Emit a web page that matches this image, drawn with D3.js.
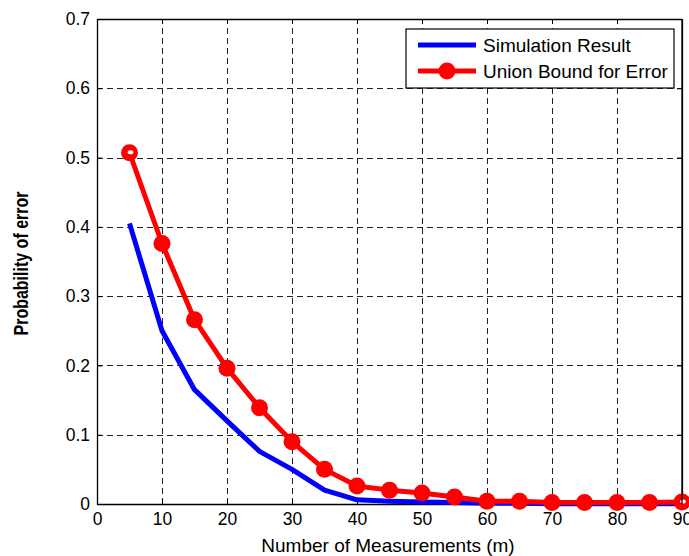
<!DOCTYPE html>
<html>
<head>
<meta charset="utf-8">
<script src="https://cdn.jsdelivr.net/npm/d3@7"></script>
<style>
  html, body { margin: 0; padding: 0; background: #fff; }
  svg { display: block; font-family: "Liberation Sans", Arial, Helvetica, sans-serif; }
</style>
</head>
<body>
<svg id="chart" width="689" height="556"></svg>
<script>
// Number of measurements (m)
const measurements = [5, 10, 15, 20, 25, 30, 35, 40, 45, 50, 55, 60, 65, 70, 75, 80, 85, 90];
// Simulated probability of error
const simulationResult = [0.405, 0.25, 0.165, 0.12, 0.076, 0.05, 0.02, 0.006, 0.004, 0.003, 0.002, 0.001, 0.001, 0.0005, 0.0005, 0.0005, 0.0005, 0.0005];
// Union bound on the probability of error
const unionBound = [0.507, 0.376, 0.266, 0.196, 0.139, 0.09, 0.05, 0.026, 0.02, 0.016, 0.01, 0.004, 0.004, 0.002, 0.002, 0.002, 0.002, 0.003];

const xTicks = [0, 10, 20, 30, 40, 50, 60, 70, 80, 90];
const yTicks = [0, 0.1, 0.2, 0.3, 0.4, 0.5, 0.6, 0.7];
const seriesNames = ["Simulation Result", "Union Bound for Error"];

const svg = d3.select("#chart");
const margin = { left: 97, top: 19, right: 689 - 682, bottom: 556 - 504 };
const W = 689, H = 556;
const x = d3.scaleLinear().domain([0, 90]).range([margin.left, W - margin.right]);
const y = d3.scaleLinear().domain([0, 0.7]).range([H - margin.bottom, margin.top]);
const x0 = x.range()[0], x1 = x.range()[1], y0 = y.range()[0], y1 = y.range()[1];

// Grid (dashed)
const grid = svg.append("g").attr("stroke", "#222").attr("stroke-width", 1)
  .attr("stroke-dasharray", "6,4").attr("shape-rendering", "crispEdges");
grid.selectAll(".gx").data(xTicks.slice(1, -1)).join("line")
  .attr("x1", d => Math.round(x(d)) + 0.5).attr("x2", d => Math.round(x(d)) + 0.5)
  .attr("y1", y0).attr("y2", y1);
grid.selectAll(".gy").data(yTicks.slice(1, -1)).join("line")
  .attr("y1", d => Math.round(y(d)) + 0.5).attr("y2", d => Math.round(y(d)) + 0.5)
  .attr("x1", x0).attr("x2", x1);

// Axes with inward ticks on all four sides
const fmtY = d => d === 0 ? "0" : d3.format(".1f")(d);
const axBottom = svg.append("g").attr("transform", `translate(0,${y0})`)
  .call(d3.axisBottom(x).tickValues(xTicks).tickSizeInner(-5).tickSizeOuter(0).tickPadding(9));
const axLeft = svg.append("g").attr("transform", `translate(${x0},0)`)
  .call(d3.axisLeft(y).tickValues(yTicks).tickFormat(fmtY).tickSizeInner(-5).tickSizeOuter(0).tickPadding(7));
const axTop = svg.append("g").attr("transform", `translate(0,${y1})`)
  .call(d3.axisTop(x).tickValues(xTicks).tickSizeInner(-5).tickSizeOuter(0).tickFormat(""));
const axRight = svg.append("g").attr("transform", `translate(${x1},0)`)
  .call(d3.axisRight(y).tickValues(yTicks).tickSizeInner(-5).tickSizeOuter(0).tickFormat(""));
[axBottom, axLeft, axTop, axRight].forEach(g => {
  g.select(".domain").attr("stroke", "#000").attr("stroke-width", 1.3);
  g.selectAll(".tick line").attr("stroke", "#000");
  g.selectAll("text").attr("fill", "#000").attr("font-size", 17.5)
    .attr("font-family", "'Liberation Sans', Arial, sans-serif");
});

// Lines
const line = d3.line().x(d => x(d[0])).y(d => y(d[1]));
const simData = measurements.map((m, i) => [m, simulationResult[i]]);
const ubData = measurements.map((m, i) => [m, unionBound[i]]);

svg.append("path").datum(simData).attr("d", line)
  .attr("fill", "none").attr("stroke", "#0000ff").attr("stroke-width", 5)
  .attr("stroke-linejoin", "round");

svg.append("path").datum(ubData).attr("d", line)
  .attr("fill", "none").attr("stroke", "#ff0000").attr("stroke-width", 5)
  .attr("stroke-linejoin", "round");

svg.append("g").selectAll("circle").data(ubData).join("circle")
  .attr("cx", d => x(d[0])).attr("cy", d => y(d[1])).attr("r", 8.5)
  .attr("fill", "#ff0000");

// Small highlight holes on the end markers
svg.append("g").selectAll("ellipse").data([ubData[0], ubData[ubData.length - 1]]).join("ellipse")
  .attr("cx", d => x(d[0]) + 1).attr("cy", d => y(d[1]) - 0.5)
  .attr("rx", 2.8).attr("ry", 2).attr("fill", "#fff");

// Right border redrawn over the last marker
svg.append("line").attr("x1", x1).attr("x2", x1).attr("y1", y1).attr("y2", y0)
  .attr("stroke", "#000").attr("stroke-width", 1.3);

// Legend
const lg = svg.append("g").attr("transform", "translate(406,29)");
lg.append("rect").attr("width", 268).attr("height", 59)
  .attr("fill", "#fff").attr("stroke", "#000").attr("stroke-width", 1.2);
const colors = ["#0000ff", "#ff0000"];
seriesNames.forEach((name, i) => {
  const yy = 16 + i * 26;
  lg.append("line").attr("x1", 12).attr("x2", 70).attr("y1", yy).attr("y2", yy)
    .attr("stroke", colors[i]).attr("stroke-width", 5);
  if (i === 1) lg.append("circle").attr("cx", 41).attr("cy", yy).attr("r", 8.5).attr("fill", colors[i]);
  lg.append("text").attr("x", 77).attr("y", yy + 6.5).attr("font-size", 19).attr("fill", "#000").text(name);
});

// Axis titles
svg.append("text").attr("x", 388).attr("y", 551.5).attr("text-anchor", "middle")
  .attr("font-size", 19).attr("fill", "#000").text("Number of Measurements (m)");
svg.append("text").attr("transform", "translate(28,263.5) rotate(-90) scale(1,1.25)")
  .attr("text-anchor", "middle").attr("font-size", 16).attr("font-weight", "bold")
  .attr("fill", "#000").text("Probability of error");
</script>
</body>
</html>
